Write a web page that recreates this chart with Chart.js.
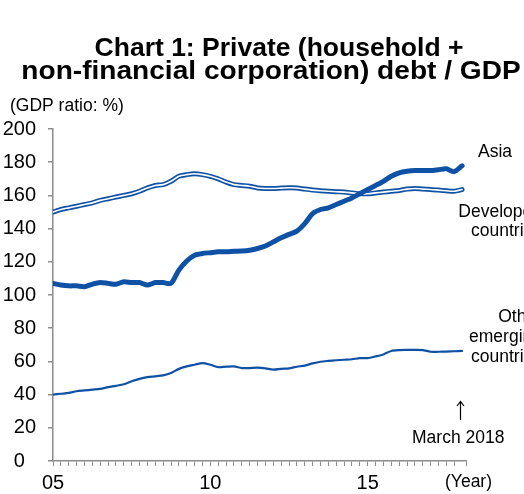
<!DOCTYPE html>
<html>
<head>
<meta charset="utf-8">
<script src="https://cdn.jsdelivr.net/npm/chart.js@4.4.1/dist/chart.umd.min.js"></script>
<style>
  html, body { margin: 0; padding: 0; background: #fff; }
  #wrap { width: 524px; height: 494px; }
</style>
</head>
<body>
<div id="wrap"><canvas id="debt"></canvas></div>
<script>
// quarterly observations, 2005 Q1 .. 2018 Q1
const firstYear = 2005;
const lastYear = 2018;
const quarters = [];
for (let y = firstYear; y <= lastYear; y++) {
    for (let q = 1; q <= 4; q++) {
        if (y === lastYear && q > 1) break;
        quarters.push(y + 'Q' + q);
    }
}

const asia = [
    107, 106, 105.5, 105.5, 105, 106.5, 107.5, 107, 106.5, 108, 107.5, 107.5, 106, 107.5, 107.5, 107,
    115, 120.5, 124, 125, 125.5, 126, 126, 126.3, 126.5, 127, 128, 129.5, 132, 134.5, 136.5, 138.5,
    143, 149, 151.5, 152.5, 154.5, 156.5, 158.5, 161, 163.6, 166, 168.5, 171.5, 173.5, 174.5, 175, 175,
    175, 175.5, 176, 174.3, 177.8
];
const developed = [
    150, 151.5, 152.5, 153.5, 154.5, 155.5, 157, 158, 159, 160, 161, 162.5, 164.5, 166, 166.5, 168.5,
    171.5, 172.5, 173, 172.5, 171.5, 170, 168, 166.5, 166, 165.5, 164.5, 164.2, 164.2, 164.4, 164.6, 164.5,
    163.8, 163.2, 162.8, 162.5, 162.2, 162, 161.5, 161, 161, 161.5, 162, 162.5, 163, 163.8, 164.2, 163.8,
    163.6, 163.2, 162.8, 162.5, 163.5
];
const otherEmerging = [
    40, 40.5, 41, 42, 42.5, 43, 43.5, 44.5, 45.3, 46.2, 48, 49.5, 50.5, 51, 51.6, 53,
    55.5, 57, 58, 59, 58, 56.5, 56.8, 57, 56, 56, 56.2, 55.8, 55, 55.5, 55.8, 56.8,
    57.5, 58.8, 59.8, 60.3, 60.7, 61, 61.3, 62, 62, 63, 64.2, 66.3, 66.8, 66.9, 66.9, 66.8,
    65.8, 65.8, 65.9, 66.1, 66.3
];

const yTicks = [0, 20, 40, 60, 80, 100, 120, 140, 160, 180, 200];
const xTickLabels = { 0: '05', 20: '10', 40: '15' };

const BLUE = '#0f52a5';
const AXIS = '#8c8c8c';
const FONT = "'Liberation Sans', Arial, sans-serif";

const pts = arr => arr.map((v, i) => ({ x: i, y: v }));

// texts placed around the plot
const labelsPlugin = {
    id: 'labels',
    afterDraw(chart) {
        const ctx = chart.ctx;
        ctx.save();
        ctx.fillStyle = '#000';
        ctx.textBaseline = 'alphabetic';

        ctx.font = 'bold 26.5px ' + FONT;
        ctx.textAlign = 'center';
        ctx.fillText('Chart 1: Private (household +', 279, 56);
        // second title line runs a little wider
        ctx.save();
        ctx.translate(271, 79);
        ctx.scale(1.06, 1);
        ctx.fillText('non-financial corporation) debt / GDP', 0, 0);
        ctx.restore();

        ctx.font = '17.5px ' + FONT;
        ctx.textAlign = 'left';
        ctx.fillText('(GDP ratio: %)', 10, 111);
        ctx.fillText('Asia', 478, 157);
        ctx.fillText('March 2018', 412, 443);
        ctx.fillText('(Year)', 445, 487);

        ctx.textAlign = 'right';
        ctx.fillText('Developed', 542, 217);
        ctx.fillText('countries', 542, 236);
        ctx.fillText('Other', 542, 322);
        ctx.fillText('emerging', 542, 342);
        ctx.fillText('countries', 542, 362);

        // arrow pointing at the last observation
        ctx.strokeStyle = '#000';
        ctx.lineWidth = 1.2;
        ctx.beginPath();
        ctx.moveTo(460.5, 420);
        ctx.lineTo(460.5, 402);
        ctx.moveTo(457, 406);
        ctx.lineTo(460.5, 401.5);
        ctx.lineTo(464, 406);
        ctx.stroke();
        ctx.restore();
    }
};

new Chart(document.getElementById('debt').getContext('2d'), {
    type: 'line',
    data: {
        datasets: [
            {
                label: 'Asia',
                data: pts(asia),
                borderColor: BLUE,
                borderWidth: 5,
            },
            {
                label: 'Developed countries (inner)',
                data: pts(developed),
                borderColor: '#fff',
                borderWidth: 1.6,
            },
            {
                label: 'Developed countries',
                data: pts(developed),
                borderColor: BLUE,
                borderWidth: 5,
            },
            {
                label: 'Other emerging countries',
                data: pts(otherEmerging),
                borderColor: BLUE,
                borderWidth: 2.2,
            }
        ]
    },
    options: {
        responsive: true,
        maintainAspectRatio: false,
        animation: false,
        layout: { padding: { left: 0, top: 129, right: 58, bottom: 0 } },
        elements: {
            point: { radius: 0 },
            line: { tension: 0.25, fill: false, borderCapStyle: 'round', borderJoinStyle: 'round' }
        },
        plugins: {
            legend: { display: false },
            tooltip: { enabled: false }
        },
        scales: {
            x: {
                type: 'linear',
                min: 0,
                max: 52.5,
                afterFit: s => { s.height = 33; },
                grid: { display: true, drawOnChartArea: false, drawTicks: true, tickLength: 5, color: AXIS, lineWidth: 1 },
                border: { color: AXIS, width: 1.5 },
                ticks: {
                    stepSize: 1,
                    autoSkip: false,
                    maxRotation: 0,
                    padding: 5,
                    color: '#000',
                    font: { family: FONT, size: 20 },
                    callback: v => xTickLabels[v] || ''
                }
            },
            y: {
                min: 0,
                max: 200,
                afterFit: s => { s.width = 53; },
                afterBuildTicks: s => { s.ticks = yTicks.map(v => ({ value: v })); },
                grid: { display: true, drawOnChartArea: false, drawTicks: true, tickLength: 5, color: AXIS, lineWidth: 1.5 },
                border: { color: AXIS, width: 1.5 },
                ticks: {
                    padding: 12,
                    color: '#000',
                    font: { family: FONT, size: 20 },
                    callback: v => (v === 0 ? '0  ' : String(v))
                }
            }
        }
    },
    plugins: [labelsPlugin]
});
</script>
</body>
</html>
